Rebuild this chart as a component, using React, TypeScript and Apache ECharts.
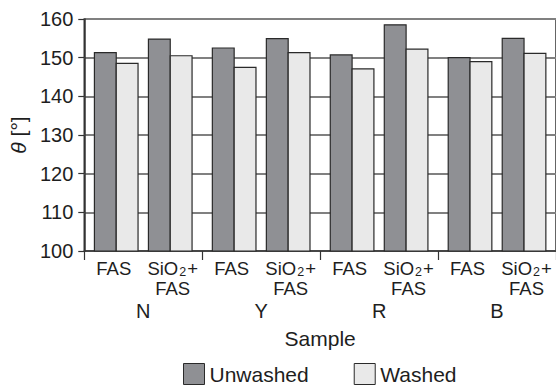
import React, { useEffect, useRef } from "react";
import * as echarts from "echarts";

// Sub-samples within each coating group (one bar pair each)
const subSamples = ["FAS", "SiO2+FAS", "FAS", "SiO2+FAS", "FAS", "SiO2+FAS", "FAS", "SiO2+FAS"];
// Colour groups
const groups = ["N", "Y", "R", "B"];
// Contact angles θ in degrees
const unwashed = [151.3, 154.8, 152.5, 154.9, 150.7, 158.5, 150.0, 155.0];
const washed = [148.5, 150.5, 147.5, 151.3, 147.1, 152.2, 149.0, 151.1];
const yTicks = { min: 100, max: 160, interval: 10 };

const FONT = "Liberation Sans, Arial, sans-serif";
const TEXT = "#1e1e1e";

const UNWASHED_FILL = "#8f9094";
const WASHED_FILL = "#e9e9e9";
const EDGE = "#2a2a2a";

function makeRenderer(side: "left" | "right", fill: string) {
  return (params: any, api: any) => {
    const i = api.value(0);
    const v = api.value(1);
    const top = api.coord([i, v]);
    const base = api.coord([i, yTicks.min]);
    const band = api.size([1, 0])[0];
    const w = band * 0.37;
    // pairs inside a group sit a little closer together than the groups do
    const shift = (i % 2 === 0 ? 1 : -1) * band * 0.042;
    const cx = top[0] + shift;
    const x = side === "left" ? cx - w : cx;
    return {
      type: "rect",
      shape: { x, y: top[1], width: w, height: base[1] - top[1] },
      style: { fill, stroke: EDGE, lineWidth: 1.2 },
    };
  };
}

function subLabel(value: string) {
  if (value === "SiO2+FAS") return "{t|SiO}{s|2}{t|+}\n{t|FAS}";
  return "{t|" + value + "}";
}

export default function App() {
  const ref = useRef<HTMLDivElement>(null);

  useEffect(() => {
    if (!ref.current) return;
    const chart = echarts.init(ref.current, null, { renderer: "svg" });
    chart.setOption({
      animation: false,
      backgroundColor: "#ffffff",
      textStyle: { fontFamily: FONT, color: TEXT },
      grid: {
        left: 83,
        top: 19,
        right: -3,
        bottom: 134,
        show: true,
        borderColor: "#333333",
        borderWidth: 1.5,
        containLabel: false,
      },
      legend: {
        left: 183,
        top: 363,
        padding: 0,
        itemWidth: 21,
        itemHeight: 21,
        itemGap: 45,
        icon: "rect",
        textStyle: { fontFamily: FONT, fontSize: 21, color: TEXT, padding: [0, 0, 0, 0] },
        data: [
          { name: "Unwashed", itemStyle: { color: UNWASHED_FILL, borderColor: EDGE, borderWidth: 1 } },
          { name: "Washed", itemStyle: { color: WASHED_FILL, borderColor: EDGE, borderWidth: 1 } },
        ],
      },
      xAxis: [
        {
          type: "category",
          data: subSamples,
          position: "bottom",
          axisLine: { show: true, lineStyle: { color: "#333333", width: 1.5 } },
          axisTick: { show: false },
          axisLabel: {
            interval: 0,
            margin: 7,
            formatter: subLabel,
            rich: {
              t: { fontFamily: FONT, fontSize: 18.5, lineHeight: 20, color: TEXT },
              s: {
                fontFamily: FONT,
                fontSize: 12.5,
                lineHeight: 12,
                color: TEXT,
                verticalAlign: "bottom",
                padding: [0, 1, 0, 1],
              },
            },
          },
          splitLine: { show: false },
        },
        {
          type: "category",
          data: groups,
          position: "bottom",
          boundaryGap: true,
          axisLine: { show: false },
          axisTick: { show: true, length: 9, inside: false, lineStyle: { color: "#333333", width: 1.2 } },
          axisLabel: { interval: 0, margin: 50, fontFamily: FONT, fontSize: 20, color: TEXT },
          name: "Sample",
          nameLocation: "middle",
          nameGap: 77,
          nameTextStyle: { fontFamily: FONT, fontSize: 21, color: TEXT },
        },
      ],
      yAxis: {
        type: "value",
        min: yTicks.min,
        max: yTicks.max,
        interval: yTicks.interval,
        axisLine: { show: true, lineStyle: { color: "#333333", width: 1.5 } },
        axisTick: { show: true, length: 6, lineStyle: { color: "#333333", width: 1.2 } },
        axisLabel: { margin: 11, fontFamily: FONT, fontSize: 20, color: TEXT },
        splitLine: { show: true, lineStyle: { color: "#808080", width: 2 } },
        name: "{i|θ} [°]",
        nameLocation: "middle",
        nameGap: 55,
        nameRotate: 90,
        nameTextStyle: {
          fontFamily: FONT,
          fontSize: 21,
          color: TEXT,
          rich: {
            i: { fontFamily: FONT, fontSize: 21, fontStyle: "italic", color: TEXT },
          },
        },
      },
      series: [
        {
          name: "Unwashed",
          type: "custom",
          xAxisIndex: 0,
          encode: { x: 0, y: 1 },
          itemStyle: { color: UNWASHED_FILL, borderColor: EDGE },
          data: unwashed.map((v, i) => [i, v]),
          renderItem: makeRenderer("left", UNWASHED_FILL),
        },
        {
          name: "Washed",
          type: "custom",
          xAxisIndex: 0,
          encode: { x: 0, y: 1 },
          itemStyle: { color: WASHED_FILL, borderColor: EDGE },
          data: washed.map((v, i) => [i, v]),
          renderItem: makeRenderer("right", WASHED_FILL),
        },
      ],
    });
    return () => chart.dispose();
  }, []);

  return <div ref={ref} style={{ width: 556, height: 385, position: "absolute", left: 0, top: 0 }} />;
}
